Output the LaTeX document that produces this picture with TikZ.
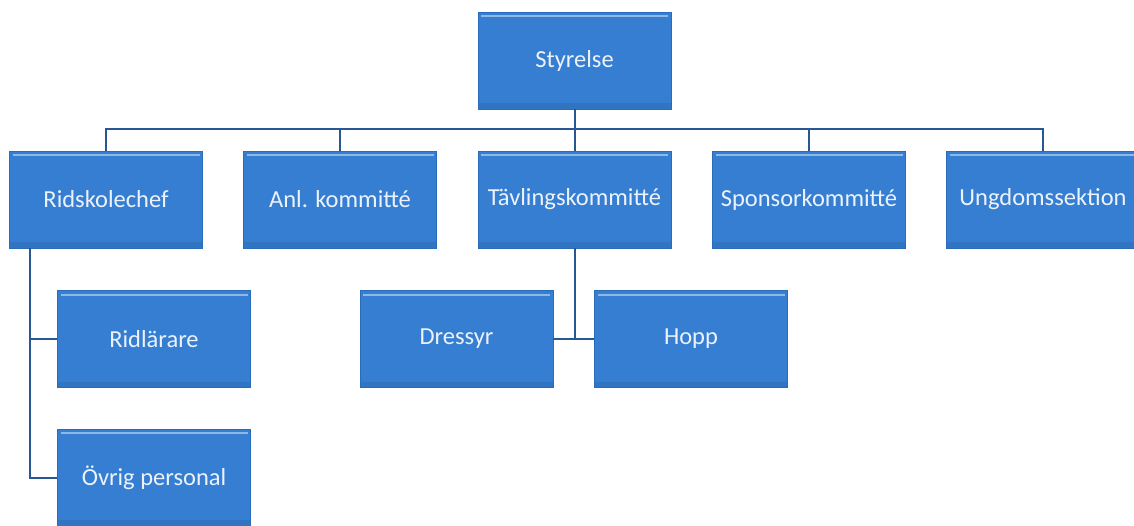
\documentclass[tikz,border=0pt]{standalone}
\usepackage{fontspec}
\setmainfont{Carlito}
\definecolor{boxblue}{RGB}{54,126,210}
\definecolor{boxedge}{RGB}{42,108,185}
\definecolor{linecol}{RGB}{40,88,148}
\definecolor{txtcol}{RGB}{236,242,250}
\begin{document}
\begin{tikzpicture}[x=1pt,y=-1pt,
  orgbox/.style={rectangle, fill=boxblue, draw=boxedge, line width=0.8pt,
    minimum width=193pt, minimum height=97pt, inner sep=0pt,
    text=txtcol, font=\fontsize{24.5}{28}\selectfont,
    path picture={\draw[white,opacity=0.45,line width=2pt]
      ([xshift=3pt,yshift=-4pt]path picture bounding box.north west) --
      ([xshift=-3pt,yshift=-4pt]path picture bounding box.north east);
      \fill[black,opacity=0.08] (path picture bounding box.south west) rectangle
      ([yshift=6pt]path picture bounding box.south east);}},
  conn/.style={draw=linecol, line width=2pt}]
\useasboundingbox (0,0) rectangle (1134,525);
\clip (0,0) rectangle (1134,525);
\fill[white] (0,0) rectangle (1134,525);
\coordinate (bus) at (0,129);
\coordinate (lx) at (30,0);
\node[orgbox] (sty) at (574.5,60.5) {Styrelse};
\node[orgbox] (rid) at (106,199.5) {Ridskolechef};
\node[orgbox] (anl) at (340,199.5) {Anl. kommitté};
\node[orgbox] (tav) at (574.5,199.5) {Tävlingskommitté};
\node[orgbox] (spo) at (809,199.5) {Sponsorkommitté};
\node[orgbox] (ung) at (1043,199.5) {Ungdomssektion};
\node[orgbox] (rl) at (154,339) {Ridlärare};
\node[orgbox] (ovr) at (154,477.5) {Övrig personal};
\node[orgbox] (dre) at (456.5,339) {Dressyr};
\node[orgbox] (hop) at (691,339) {Hopp};
\draw[conn] (sty.south) -- (tav.north);
\draw[conn] (rid.north) -- (rid.north |- bus) -| (ung.north);
\draw[conn] (anl.north) -- (anl.north |- bus);
\draw[conn] (spo.north) -- (spo.north |- bus);
\draw[conn] (rid.south -| lx) |- (ovr.west);
\draw[conn] (lx |- rl.west) -- (rl.west);
\draw[conn] (tav.south) -- (tav.south |- dre.east);
\draw[conn] (dre.east) -- (hop.west);
\end{tikzpicture}
\end{document}
